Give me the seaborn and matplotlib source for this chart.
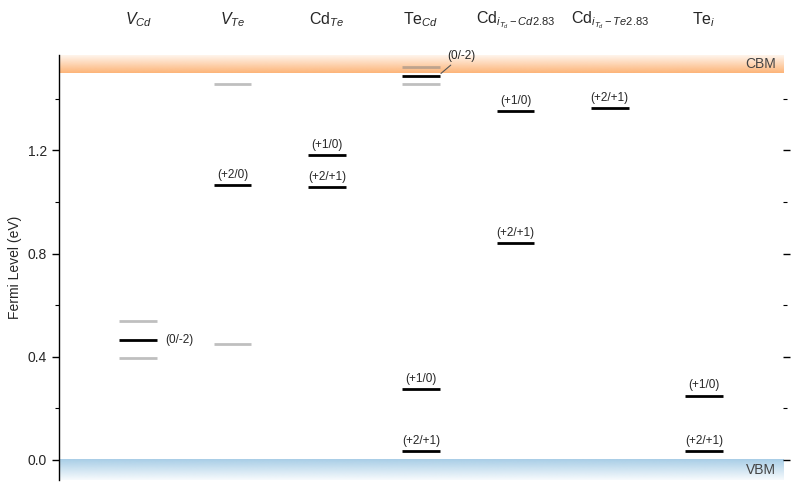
import numpy as np
import matplotlib
matplotlib.use('Agg')
import matplotlib.pyplot as plt
import matplotlib.transforms as mtransforms
from matplotlib.ticker import MultipleLocator
import seaborn as sns

sns.set_theme(style="ticks")
plt.rcParams['font.family'] = ['Liberation Sans', 'DejaVu Sans']
plt.rcParams['mathtext.fontset'] = 'custom'
plt.rcParams['mathtext.rm'] = 'Liberation Sans'
plt.rcParams['mathtext.it'] = 'Liberation Sans:italic'

# defect columns
defects = [r'$V_{Cd}$', r'$V_{Te}$', r'Cd$_{Te}$', r'Te$_{Cd}$',
           r'Cd$_{i_{T_d}-Cd2.83}$', r'Cd$_{i_{T_d}-Te2.83}$', r'Te$_{i}$']

# band edges (eV)
vbm = 0.0
cbm = 1.5

# transition levels (black)
trans_defect = [0, 1, 2, 2, 3, 3, 3, 4, 4, 5, 6, 6]
trans_energy = [0.465, 1.066, 1.182, 1.058, 1.488, 0.276, 0.035,
                1.353, 0.841, 1.364, 0.249, 0.035]
trans_label = ['(0/-2)', '(+2/0)', '(+1/0)', '(+2/+1)', '(0/-2)', '(+1/0)', '(+2/+1)',
               '(+1/0)', '(+2/+1)', '(+2/+1)', '(+1/0)', '(+2/+1)']

# single-charge levels (grey)
grey_defect = [0, 0, 1, 1, 3, 3]
grey_energy = [0.539, 0.395, 1.457, 0.450, 1.523, 1.457]

half_w = 0.2
xlim = (-0.84, 6.84)
ylim = (-0.078, 1.57)

fig = plt.figure(figsize=(7.92, 4.90), dpi=100)
ax = fig.add_axes([0.0745, 0.0204, 0.9145, 0.8676])

# band gradients
n = 256
grad = np.linspace(0, 1, n)
orange = np.array([253, 172, 105]) / 255
blue = np.array([158, 200, 228]) / 255
cb_img = np.ones((n, 2, 4))
cb_img[:, :, :3] = orange
cb_img[:, :, 3] = (0.9 - 0.82 * grad)[:, None]
ax.imshow(cb_img, extent=[xlim[0], xlim[1], cbm, ylim[1]], origin='lower',
          aspect='auto', zorder=0, interpolation='bilinear')
vb_img = np.ones((n, 2, 4))
vb_img[:, :, :3] = blue
vb_img[:, :, 3] = (0.08 + 0.82 * grad)[:, None]
ax.imshow(vb_img, extent=[xlim[0], xlim[1], ylim[0], vbm], origin='lower',
          aspect='auto', zorder=0, interpolation='bilinear')

ax.text(xlim[1] - 0.08, cbm + 0.035, 'CBM', ha='right', va='center',
        fontsize=10, color='#444444')
ax.text(xlim[1] - 0.08, vbm - 0.038, 'VBM', ha='right', va='center',
        fontsize=10, color='#444444')

gx = np.array(grey_defect)
ax.hlines(grey_energy, gx - half_w, gx + half_w, color='grey', alpha=0.5, lw=2, zorder=2)
tx = np.array(trans_defect)
ax.hlines(trans_energy, tx - half_w, tx + half_w, color='black', lw=2, zorder=3)

for d, e, lab in zip(trans_defect, trans_energy, trans_label):
    if d == 0:
        ax.annotate(lab, xy=(d + half_w, e), xytext=(6, 0), textcoords='offset points',
                    ha='left', va='center', fontsize=8.5)
    elif d == 3 and lab == '(0/-2)':
        ax.annotate(lab, xy=(d + half_w + 0.01, e + 0.01), xytext=(d + half_w + 0.08, e + 0.055),
                    ha='left', va='bottom', fontsize=8.5,
                    arrowprops=dict(arrowstyle='-', color='#555555', lw=0.8, shrinkA=0, shrinkB=0))
    else:
        ax.annotate(lab, xy=(d, e), xytext=(0, 3), textcoords='offset points',
                    ha='center', va='bottom', fontsize=8.5)

trans = mtransforms.blended_transform_factory(ax.transData, ax.transAxes)
for i, name in enumerate(defects):
    ax.text(i, 1.082, name, transform=trans, ha='center', va='center', fontsize=11.5)

ax.set_xlim(*xlim)
ax.set_ylim(*ylim)
ax.set_xticks([])
ax.yaxis.set_major_locator(MultipleLocator(0.4))
ax.yaxis.set_minor_locator(MultipleLocator(0.2))
ax.set_yticks([0.0, 0.4, 0.8, 1.2])
ax.tick_params(axis='y', which='both', direction='out', left=True, right=True,
               labelright=False, color='black', labelsize=10)
ax.tick_params(axis='y', which='major', length=5, width=1)
ax.tick_params(axis='y', which='minor', length=3, width=0.8)
ax.set_ylabel('Fermi Level (eV)', fontsize=10)
sns.despine(ax=ax, top=True, right=True, bottom=True)
ax.spines['left'].set_color('black')
ax.spines['left'].set_linewidth(1)

fig.savefig('out.png', dpi=100)
